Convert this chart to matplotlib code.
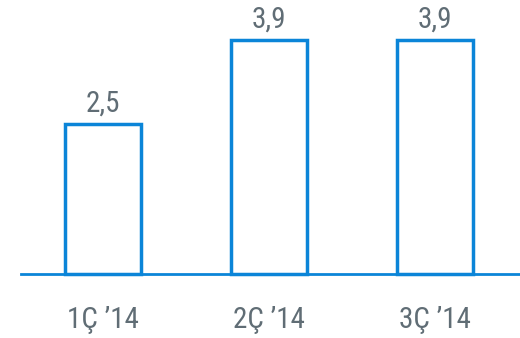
import matplotlib
matplotlib.use("Agg")
import matplotlib.pyplot as plt

quarters = ["1Ç ’14", "2Ç ’14", "3Ç ’14"]
values = [2.5, 3.9, 3.9]
value_labels = ["2,5", "3,9", "3,9"]

BLUE = "#0b85d8"
GREY = "#606d75"

plt.rcParams["font.family"] = ["Roboto Condensed", "Roboto", "DejaVu Sans"]

W, H = 520, 338
fig = plt.figure(figsize=(W / 100, H / 100), dpi=100)
# axes from the baseline (64 px above bottom) to the top, 21 px to the right edge
ax = fig.add_axes([21 / W, 64 / H, 1 - 21 / W, 1 - 64 / H])

x = list(range(len(values)))
ax.bar(x, values, width=0.46, fill=False, edgecolor=BLUE, linewidth=2.5,
       zorder=2, clip_on=False)
ax.axhline(0, color=BLUE, linewidth=2, zorder=3, clip_on=False)

for i, (v, lab) in enumerate(zip(values, value_labels)):
    ax.annotate(lab, xy=(i, v), xytext=(0, 9), textcoords="offset points",
                ha="center", va="baseline", fontsize=21, color=GREY)

for i, q in enumerate(quarters):
    ax.annotate(q, xy=(i, 0), xycoords=("data", "axes fraction"),
                xytext=(0, -39), textcoords="offset points",
                ha="center", va="baseline", fontsize=21, color=GREY,
                annotation_clip=False)

ax.set_xlim(-82 / 166, (520 - 103) / 166)
ax.set_ylim(0, (338 - 64) / 60)
ax.axis("off")

fig.savefig("out.png", dpi=100)
